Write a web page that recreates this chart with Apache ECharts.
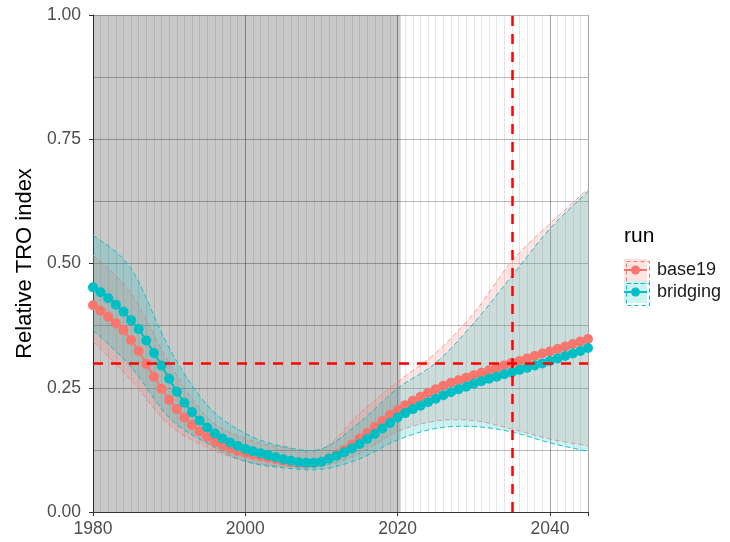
<!DOCTYPE html>
<html>
<head>
<meta charset="utf-8">
<script src="https://cdn.jsdelivr.net/npm/echarts@6/dist/echarts.min.js"></script>
<style>
  html, body { margin: 0; padding: 0; background: #fff; }
  #chart { width: 730px; height: 542px; }
</style>
</head>
<body>
<div id="chart"></div>
<script>
  // yearly medians (points)
  var years = []
  for (var y = 1980; y <= 2045; y++) years.push(y)

  var base19Mid = [
    0.416, 0.405, 0.393, 0.380, 0.366, 0.346, 0.324, 0.298, 0.272, 0.248,
    0.226, 0.207, 0.190, 0.175, 0.162, 0.151, 0.141, 0.134, 0.128, 0.123,
    0.119, 0.115, 0.112, 0.109, 0.106, 0.103, 0.100, 0.098, 0.097, 0.098,
    0.101, 0.108, 0.116, 0.125, 0.136, 0.148, 0.159, 0.171, 0.183, 0.195,
    0.205, 0.215, 0.224, 0.232, 0.240, 0.247, 0.254, 0.260, 0.265, 0.270,
    0.275, 0.280, 0.285, 0.290, 0.295, 0.300, 0.304, 0.309, 0.314, 0.319,
    0.323, 0.328, 0.333, 0.338, 0.343, 0.348
  ]
  var bridgingMid = [
    0.452, 0.442, 0.430, 0.417, 0.403, 0.386, 0.368, 0.345, 0.320, 0.295,
    0.268, 0.242, 0.220, 0.201, 0.184, 0.170, 0.158, 0.148, 0.140, 0.133,
    0.127, 0.122, 0.118, 0.114, 0.110, 0.106, 0.103, 0.100, 0.099, 0.099,
    0.101, 0.107, 0.113, 0.120, 0.128, 0.137, 0.147, 0.157, 0.168, 0.179,
    0.190, 0.199, 0.207, 0.214, 0.221, 0.228, 0.235, 0.241, 0.247, 0.252,
    0.258, 0.263, 0.268, 0.272, 0.277, 0.281, 0.286, 0.290, 0.295, 0.299,
    0.304, 0.309, 0.314, 0.319, 0.324, 0.330
  ]

  // ribbon edges, every 5 years
  var bandYears = [1980, 1985, 1990, 1995, 2000, 2005, 2010, 2015, 2020, 2025, 2030, 2035, 2040, 2045]
  var base19Lo = [0.343, 0.265, 0.175, 0.130, 0.102, 0.092, 0.092, 0.118, 0.162, 0.183, 0.184, 0.167, 0.147, 0.133]
  var base19Hi = [0.517, 0.440, 0.300, 0.190, 0.148, 0.130, 0.125, 0.198, 0.262, 0.320, 0.400, 0.505, 0.580, 0.650]
  var bridgingLo = [0.366, 0.292, 0.190, 0.138, 0.102, 0.089, 0.086, 0.107, 0.145, 0.168, 0.172, 0.161, 0.139, 0.122]
  var bridgingHi = [0.557, 0.490, 0.330, 0.215, 0.158, 0.132, 0.127, 0.180, 0.249, 0.300, 0.380, 0.475, 0.570, 0.645]

  var yTicks = [0, 0.25, 0.5, 0.75, 1]
  var xTicks = [1980, 2000, 2020, 2040]
  var shadeRange = [1980, 2020.4]
  var targetYear = 2035
  var targetLevel = 0.3

  var SALMON = '#F8766D'
  var TEAL = '#00BFC4'
  var FONT = '"Liberation Sans", Arial, sans-serif'

  function pairs(xs, ys) {
    return xs.map(function(x, i) { return [x, ys[i]] })
  }

  // catmull-rom through pixel points so the ribbon edges come out smooth
  function spline(pts, steps) {
    var out = []
    for (var i = 0; i < pts.length - 1; i++) {
      var p0 = pts[i - 1] || pts[i]
      var p1 = pts[i]
      var p2 = pts[i + 1]
      var p3 = pts[i + 2] || pts[i + 1]
      for (var s = 0; s < steps; s++) {
        var t = s / steps, t2 = t * t, t3 = t2 * t
        var px = 0.5 * (2 * p1[0] + (-p0[0] + p2[0]) * t + (2 * p0[0] - 5 * p1[0] + 4 * p2[0] - p3[0]) * t2 + (-p0[0] + 3 * p1[0] - 3 * p2[0] + p3[0]) * t3)
        var py = 0.5 * (2 * p1[1] + (-p0[1] + p2[1]) * t + (2 * p0[1] - 5 * p1[1] + 4 * p2[1] - p3[1]) * t2 + (-p0[1] + 3 * p1[1] - 3 * p2[1] + p3[1]) * t3)
        out.push([px, py])
      }
    }
    out.push(pts[pts.length - 1])
    return out
  }

  function ribbon(name, lo, hi, color, lineOpacity) {
    return {
      name: name + '-band',
      type: 'custom',
      z: 3,
      silent: true,
      clip: true,
      data: [0],
      renderItem: function(params, api) {
        var loPx = spline(bandYears.map(function(x, i) { return api.coord([x, lo[i]]) }), 10)
        var hiPx = spline(bandYears.map(function(x, i) { return api.coord([x, hi[i]]) }), 10)
        var poly = hiPx.concat(loPx.slice().reverse())
        var edge = { stroke: color, lineWidth: 1, lineDash: [5, 3], opacity: lineOpacity, fill: null }
        return {
          type: 'group',
          children: [
            { type: 'polygon', shape: { points: poly }, style: { fill: color, opacity: 0.2 } },
            { type: 'polyline', shape: { points: loPx }, style: edge },
            { type: 'polyline', shape: { points: hiPx }, style: edge }
          ]
        }
      }
    }
  }

  function median(name, vals, color) {
    return {
      name: name,
      type: 'line',
      z: 4,
      symbol: 'circle',
      symbolSize: 10,
      data: pairs(years, vals),
      itemStyle: { color: color },
      lineStyle: { color: color, width: 2 }
    }
  }

  var chart = echarts.init(document.getElementById('chart'), null, { renderer: 'canvas' })

  var series = [
    {
      // grey history shading
      type: 'custom',
      z: 1,
      silent: true,
      clip: true,
      data: [shadeRange],
      renderItem: function(params, api) {
        var p0 = api.coord([api.value(0), 1])
        var p1 = api.coord([api.value(1), 0])
        return {
          type: 'rect',
          shape: { x: p0[0], y: p0[1], width: p1[0] - p0[0], height: p1[1] - p0[1] },
          style: { fill: 'rgba(0,0,0,0.21)' }
        }
      }
    },
    {
      type: 'line',
      z: 2,
      data: [],
      markLine: {
        silent: true,
        symbol: ['none', 'none'],
        label: { show: false },
        lineStyle: { color: '#FF0000', width: 2.5, type: [10, 8] },
        data: [{ xAxis: targetYear }, { yAxis: targetLevel }]
      }
    },
    ribbon('base19', base19Lo, base19Hi, SALMON, 0.7),
    ribbon('bridging', bridgingLo, bridgingHi, TEAL, 0.9),
    median('base19', base19Mid, SALMON),
    median('bridging', bridgingMid, TEAL)
  ]

  // legend (drawn by hand: dashed box + line + dot)
  function legendKey(top, color, label) {
    return [
      { type: 'rect', left: 624, top: top, shape: { width: 23, height: 22 },
        style: { fill: color, opacity: 0.2 } },
      { type: 'rect', left: 624, top: top, shape: { width: 23, height: 22 },
        style: { fill: null, stroke: color, lineWidth: 1, lineDash: [4, 3] } },
      { type: 'line', shape: { x1: 624, y1: top + 11, x2: 647, y2: top + 11 },
        style: { stroke: color, lineWidth: 2 } },
      { type: 'circle', shape: { cx: 635.5, cy: top + 11, r: 4.5 }, style: { fill: color } },
      { type: 'text', x: 657, y: top + 11,
        style: { text: label, font: '18px ' + FONT, fill: '#1a1a1a', verticalAlign: 'middle' } }
    ]
  }

  var graphic = [
    { type: 'text', x: 624, y: 236,
      style: { text: 'run', font: '21px ' + FONT, fill: '#000', verticalAlign: 'middle' } }
  ].concat(legendKey(259, SALMON, 'base19')).concat(legendKey(281, TEAL, 'bridging'))

  var options = {
    animation: false,
    backgroundColor: '#fff',
    textStyle: { fontFamily: FONT },
    grid: { left: 93, right: 142, top: 15, bottom: 30, containLabel: false },
    xAxis: [
      {
        type: 'value',
        min: 1980,
        max: 2045,
        interval: 20,
        axisLine: { show: true, lineStyle: { color: '#333', width: 1 } },
        axisTick: { show: true, length: 4, lineStyle: { color: '#333' } },
        axisLabel: {
          color: '#4d4d4d', fontSize: 17.5, margin: 8, fontFamily: FONT,
          formatter: function(v) { return xTicks.indexOf(v) >= 0 ? String(v) : '' }
        },
        splitLine: { show: true, lineStyle: { color: 'rgba(0,0,0,0.28)', width: 1 } }
      },
      {
        // one thin line per year
        type: 'value',
        min: 1980,
        max: 2045,
        interval: 1,
        position: 'bottom',
        axisLine: { show: false },
        axisTick: { show: false },
        axisLabel: { show: false },
        splitLine: { show: true, lineStyle: { color: 'rgba(0,0,0,0.1)', width: 1 } }
      }
    ],
    yAxis: {
      type: 'value',
      min: 0,
      max: 1,
      interval: 0.25,
      name: 'Relative TRO index',
      nameLocation: 'middle',
      nameGap: 57,
      nameTextStyle: { fontSize: 22, color: '#000', fontFamily: FONT },
      axisLine: { show: true, lineStyle: { color: '#333', width: 1 } },
      axisTick: { show: true, length: 4, lineStyle: { color: '#333' } },
      axisLabel: {
        color: '#4d4d4d', fontSize: 17.5, margin: 12, fontFamily: FONT,
        formatter: function(v) { return yTicks.indexOf(v) >= 0 ? v.toFixed(2) : '' }
      },
      splitLine: { show: true, lineStyle: { color: 'rgba(0,0,0,0.28)', width: 1 } },
      minorTick: { show: false, splitNumber: 2 },
      minorSplitLine: { show: true, lineStyle: { color: 'rgba(0,0,0,0.28)', width: 1 } }
    },
    series: series,
    graphic: graphic
  }

  chart.setOption(options)
</script>
</body>
</html>
